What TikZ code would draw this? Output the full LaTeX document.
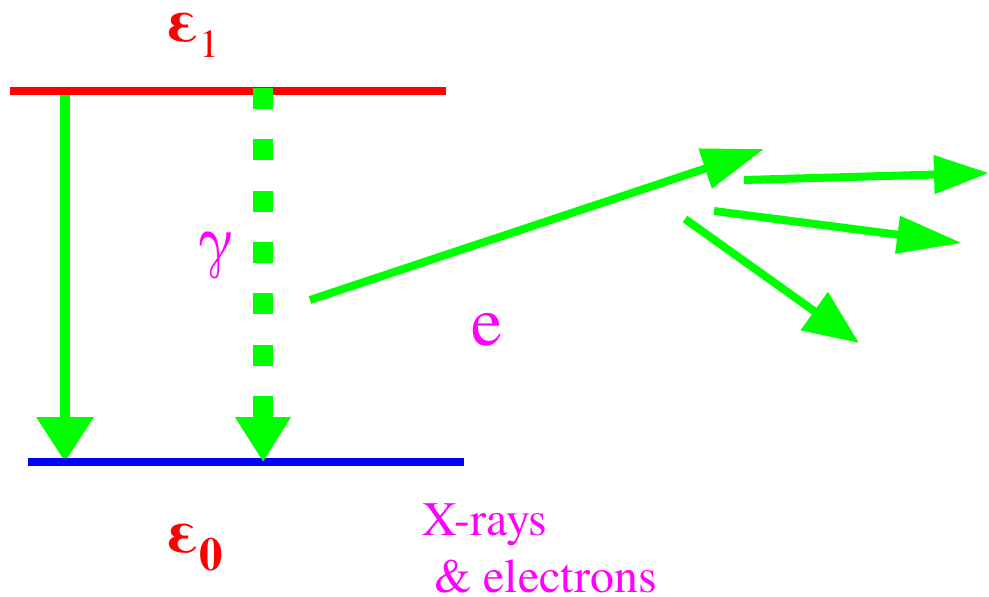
\documentclass[tikz,border=0pt]{standalone}
\usepackage{fontspec}
\setmainfont{texgyretermes}[Extension=.otf, UprightFont=*-regular, BoldFont=*-bold, ItalicFont=*-italic, BoldItalicFont=*-bolditalic]
\usetikzlibrary{arrows.meta}
\definecolor{gr}{RGB}{0,255,0}
\definecolor{rd}{RGB}{255,0,0}
\definecolor{bl}{RGB}{0,0,255}
\definecolor{mg}{RGB}{255,0,255}
\tikzset{
  level/.style={line width=8pt},
  lbl/.style={inner sep=0pt, anchor=base west},
}
\begin{document}
\begin{tikzpicture}[x=1pt,y=-1pt]
\useasboundingbox (0,0) rectangle (989,597);
% coordinates
\coordinate (r1) at (10,91);
\coordinate (r2) at (446,91);
\coordinate (b1) at (28,462);
\coordinate (b2) at (464,462);
\coordinate (s0) at (65,95);
\coordinate (s1) at (65,462);
\coordinate (d0) at (263,88);
\coordinate (d1) at (263,462);
\coordinate (e0) at (310,300);
\coordinate (e1) at (764,149);
\coordinate (p0) at (744,180);
\coordinate (p1) at (989,173);
\coordinate (q0) at (714,211);
\coordinate (q1) at (962,243);
\coordinate (t0) at (685,219);
\coordinate (t1) at (859,343);
% levels and transitions
\draw[gr, line width=10pt, -{Triangle[length=45pt,width=55pt]}] (s0) -- (s1);
\draw[level, rd] (r1) -- (r2);
\draw[level, bl] (b1) -- (b2);
\draw[gr, line width=20pt, dash pattern=on 21pt off 30.3pt, -{Triangle[length=45pt,width=53pt]}] (d0) -- (d1);
% emitted particles
\draw[gr, line width=8pt, -{Triangle[length=62pt,width=40pt]}] (e0) -- (e1);
\draw[gr, line width=8pt, -{Triangle[length=55pt,width=37pt]}] (p0) -- (p1);
\draw[gr, line width=8pt, -{Triangle[length=65pt,width=36pt]}] (q0) -- (q1);
\draw[gr, line width=8pt, -{Triangle[length=55pt,width=45pt]}] (t0) -- (t1);
% labels
\node[lbl, text=rd, text height=32pt] (eps1) at (166,42) {\fontsize{64}{64}\selectfont\textbf{ε}\raisebox{-15pt}{\fontsize{40}{40}\selectfont 1}};
\node[lbl, text=rd] (eps0) at (166,553) {\fontsize{64}{64}\selectfont\textbf{ε}\raisebox{-17pt}{\fontsize{47}{47}\selectfont\bfseries 0}};
\node[lbl, text=mg] (gam) at (197,262) {\fontsize{66}{66}\selectfont γ};
\node[lbl, text=mg] (el) at (471,345) {\fontsize{70}{70}\selectfont e};
\node[lbl, text=mg] (xr) at (422,535) {\fontsize{48}{48}\selectfont X-rays};
\node[lbl, text=mg, text depth=0pt] (ae) at (434,592) {\fontsize{48}{48}\selectfont \& electrons};
\end{tikzpicture}
\end{document}
